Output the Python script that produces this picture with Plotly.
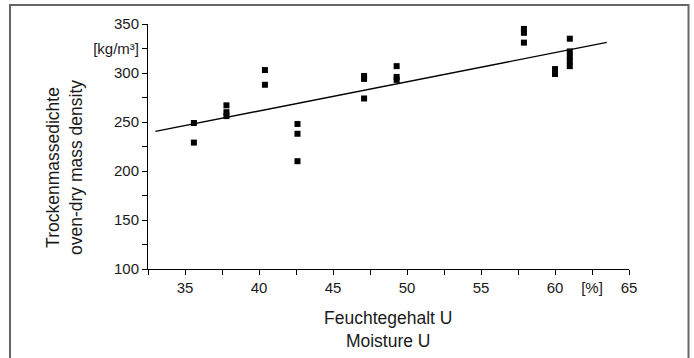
import plotly.graph_objects as go

# --- data ---
moisture = [35.6, 35.6,
            37.8, 37.8, 37.8,
            40.4, 40.4,
            42.6, 42.6, 42.6,
            47.1, 47.1, 47.1,
            49.3, 49.3, 49.3,
            57.9, 57.9, 57.9,
            60.0, 60.0,
            61.0, 61.0, 61.0, 61.0, 61.0]
density = [249, 229,
           267, 260, 256,
           303, 288,
           248, 238, 210,
           297, 294, 274,
           307, 296, 293,
           345, 341, 331,
           304, 299,
           335, 322, 317, 312, 307]

fit_x = [33.0, 63.5]
fit_y = [240.4, 331.2]

x_tickvals = [32.5, 35, 37.5, 40, 42.5, 45, 47.5, 50, 52.5, 55, 57.5, 60, 62.5, 65]
x_ticktext = ["", "35", "", "40", "", "45", "", "50", "", "55", "", "60", "[%]", "65"]
y_tickvals = [100, 125, 150, 175, 200, 225, 250, 275, 300, 325, 350]
y_ticktext = ["100", "", "150", "", "200", "", "250", "", "300", "[kg/m³]", "350"]

FONT = "Liberation Sans, Arial, sans-serif"

fig = go.Figure()
fig.add_trace(go.Scatter(x=fit_x, y=fit_y, mode="lines",
                         line=dict(color="black", width=1.4), showlegend=False))
fig.add_trace(go.Scatter(x=moisture, y=density, mode="markers",
                         marker=dict(symbol="square", size=6, color="black", line=dict(width=0)),
                         showlegend=False))

W, H = 694, 358
L, R, T, B = 148, 65, 24, 89
pw, ph = W - L - R, H - T - B

def px(xp):
    return (xp - L) / pw

def py(yp):
    return (H - B - yp) / ph

fig.update_layout(
    width=W, height=H,
    margin=dict(l=L, r=R, t=T, b=B, pad=0),
    paper_bgcolor="white", plot_bgcolor="white",
    font=dict(family=FONT, size=15, color="#1a1a1a"),
    xaxis=dict(range=[32.5, 65], tickvals=x_tickvals, ticktext=x_ticktext,
               showgrid=False, zeroline=False, showline=True, linecolor="black", linewidth=1,
               ticks="outside", ticklen=5, tickcolor="black", tickwidth=1,
               tickfont=dict(size=15)),
    yaxis=dict(range=[100, 350], tickvals=y_tickvals, ticktext=y_ticktext,
               showgrid=False, zeroline=False, showline=True, linecolor="black", linewidth=1,
               ticks="outside", ticklen=5, tickcolor="black", tickwidth=1,
               tickfont=dict(size=15)),
    shapes=[dict(type="rect", xref="paper", yref="paper",
                 x0=px(10), x1=px(688.5), y0=py(365), y1=py(5),
                 line=dict(color="#666666", width=2), layer="below")],
    annotations=[
        dict(text="Feuchtegehalt U<br>Moisture U", xref="paper", yref="paper",
             x=px(388), y=py(329.5), xanchor="center", yanchor="middle",
             showarrow=False, font=dict(size=17.5)),
        dict(text="Trockenmassedichte<br>oven-dry mass density", xref="paper", yref="paper",
             x=px(64), y=py(168), xanchor="center", yanchor="middle", textangle=-90,
             showarrow=False, font=dict(size=17.5)),
    ],
)

fig.write_html("out.html", config={"displayModeBar": False},
               post_script="document.body.style.margin='0';document.body.style.overflow='hidden';")
